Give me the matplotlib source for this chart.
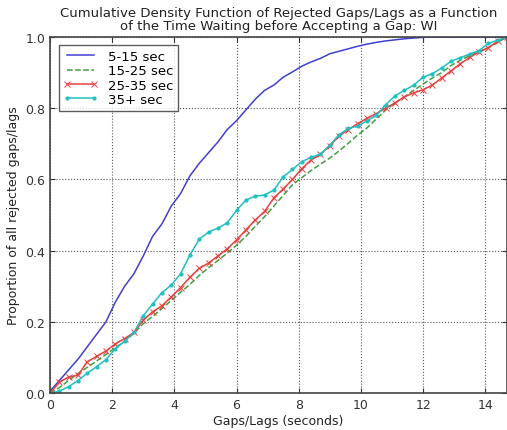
import numpy as np
import matplotlib
matplotlib.use("Agg")
import matplotlib.pyplot as plt

# gap/lag bins (seconds), step 0.3 up to 14.7
gaps = np.round(np.arange(0, 50) * 0.3, 1)

cdf_5_15 = [0.005, 0.035, 0.065, 0.095, 0.13, 0.165, 0.20, 0.255, 0.30, 0.335,
            0.385, 0.44, 0.475, 0.525, 0.56, 0.61, 0.645, 0.675, 0.705, 0.74,
            0.765, 0.795, 0.825, 0.85, 0.865, 0.887, 0.902, 0.918, 0.93, 0.94,
            0.953, 0.96, 0.967, 0.974, 0.98, 0.985, 0.989, 0.992, 0.995, 0.997,
            0.999, 1.0, 1.0, 1.0, 1.0, 1.0, 1.0, 1.0, 1.0, 1.0]

cdf_15_25 = [0.0, 0.015, 0.035, 0.055, 0.072, 0.09, 0.108, 0.127, 0.145, 0.168,
             0.195, 0.215, 0.237, 0.26, 0.283, 0.305, 0.33, 0.352, 0.372, 0.393,
             0.415, 0.44, 0.468, 0.495, 0.525, 0.555, 0.585, 0.605, 0.625, 0.643,
             0.66, 0.68, 0.702, 0.725, 0.745, 0.77, 0.795, 0.815, 0.832, 0.85,
             0.868, 0.885, 0.9, 0.92, 0.935, 0.948, 0.958, 0.97, 0.985, 1.0]

cdf_25_35 = [0.0, 0.03, 0.045, 0.05, 0.088, 0.103, 0.118, 0.138, 0.153, 0.17,
             0.205, 0.228, 0.245, 0.27, 0.296, 0.325, 0.35, 0.365, 0.385, 0.405,
             0.43, 0.458, 0.486, 0.51, 0.548, 0.573, 0.6, 0.63, 0.655, 0.67,
             0.695, 0.722, 0.74, 0.757, 0.772, 0.785, 0.8, 0.815, 0.832, 0.843,
             0.852, 0.865, 0.885, 0.905, 0.925, 0.943, 0.958, 0.97, 0.988, 1.0]

cdf_35_plus = [0.0, 0.005, 0.018, 0.035, 0.056, 0.074, 0.094, 0.124, 0.145, 0.17,
               0.217, 0.25, 0.282, 0.303, 0.335, 0.388, 0.432, 0.452, 0.463, 0.478,
               0.513, 0.542, 0.553, 0.556, 0.57, 0.607, 0.628, 0.65, 0.662, 0.671,
               0.696, 0.726, 0.743, 0.75, 0.765, 0.78, 0.81, 0.835, 0.85, 0.865,
               0.887, 0.897, 0.913, 0.932, 0.942, 0.952, 0.962, 0.982, 0.991, 1.0]

fig = plt.figure(figsize=(5.07, 4.31), dpi=100)
ax = fig.add_axes([50 / 507, 37 / 431, 457 / 507, 356 / 431])

ax.plot(gaps, cdf_5_15, color='#4040d0', lw=1.1, label='5-15 sec')
ax.plot(gaps, cdf_15_25, color='#40a040', lw=1.1, ls='--', label='15-25 sec')
ax.plot(gaps, cdf_25_35, color='#e84040', lw=1.1, marker='x', ms=4, mew=0.7,
        label='25-35 sec')
ax.plot(gaps, cdf_35_plus, color='#20c0c0', lw=1.1, marker='.', ms=4,
        label='35+ sec')

ax.set_xlim(0, 14.7)
ax.set_ylim(0, 1.0)
ax.set_xticks([0, 2, 4, 6, 8, 10, 12, 14])
ax.set_yticks([0.0, 0.2, 0.4, 0.6, 0.8, 1.0])
ax.set_yticklabels(['0.0', '0.2', '0.4', '0.6', '0.8', '1.0'])
ax.tick_params(direction='in', labelsize=9, colors='#333333', top=True, right=True)
ax.grid(True, ls=':', color='#555555', lw=0.8)
for s in ax.spines.values():
    s.set_color('#444444')
    s.set_linewidth(1.2)

ax.set_xlabel('Gaps/Lags (seconds)', fontsize=9, color='#222222', labelpad=2)
ax.set_ylabel('Proportion of all rejected gaps/lags', fontsize=9, color='#222222')
ax.set_title('Cumulative Density Function of Rejected Gaps/Lags as a Function\n'
             'of the Time Waiting before Accepting a Gap: WI',
             fontsize=9.5, color='#222222', linespacing=1.0, pad=6)

leg = ax.legend(loc='upper left', fontsize=9.5, numpoints=2, handlelength=2.6,
                fancybox=False, borderpad=0.35, labelspacing=0.1,
                bbox_to_anchor=(0.005, 0.995))
leg.get_frame().set_edgecolor('#333333')
leg.get_frame().set_linewidth(1.0)

fig.savefig('out.png', dpi=100)
